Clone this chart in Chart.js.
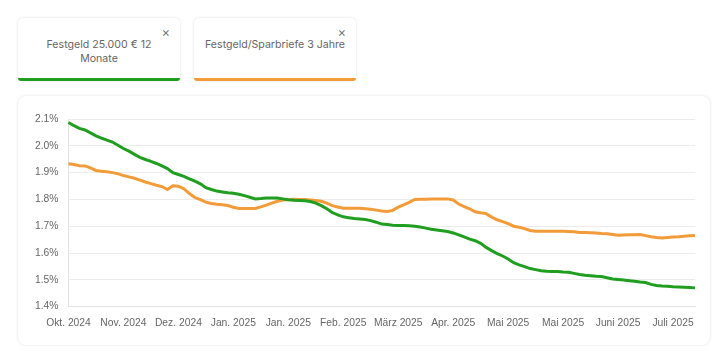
<!DOCTYPE html>
<html>
<head>
<meta charset="utf-8">
<script src="https://cdn.jsdelivr.net/npm/chart.js@4.4.1/dist/chart.umd.min.js"></script>
<style>
  html, body { margin: 0; padding: 0; background: #fff; }
  body { width: 720px; height: 351px; position: relative; overflow: hidden; font-family: Inter, "Noto Sans", sans-serif; }
  .pill {
    position: absolute; top: 18px; width: 162px; height: 63px; box-sizing: border-box;
    background: #fff; border-radius: 5px;
    box-shadow: 0 0 3px rgba(0,0,0,0.12);
    font-size: 10.6px; color: #666; text-align: center; line-height: 14px;
    padding: 20px 8px 0 8px;
  }
  .pill .x { position: absolute; right: 10px; top: 7px; font-size: 13px; color: #777; }
  .pill .bar { position: absolute; left: 0; right: 0; bottom: 0; height: 3px; border-radius: 0 0 5px 5px; }
  #card {
    position: absolute; left: 18px; top: 96px; width: 692px; height: 249px; box-sizing: border-box;
    border-radius: 8px; background: #fff; box-shadow: 0 0 3px rgba(0,0,0,0.13);
  }
  #card canvas { position: absolute; left: 0; top: 0; }
</style>
</head>
<body>
<div class="pill" style="left:18px"><span class="x">×</span>Festgeld 25.000 € 12<br>Monate<div class="bar" style="background:#1f9e1f"></div></div>
<div class="pill" style="left:194px;white-space:nowrap"><span class="x">×</span>Festgeld/Sparbriefe 3 Jahre<div class="bar" style="background:#f29b38"></div></div>
<div id="card"><canvas id="rateChart" width="692" height="249"></canvas></div>
<script>
// tick labels shown every 10 data points
var tickLabels = ["Okt. 2024", "Nov. 2024", "Dez. 2024", "Jan. 2025", "Jan. 2025", "Feb. 2025",
  "März 2025", "Apr. 2025", "Mai 2025", "Mai 2025", "Juni 2025", "Juli 2025"];

var festgeld12 = [
  2.087, 2.075, 2.065, 2.059, 2.048, 2.037, 2.029, 2.021, 2.014, 2.002,
  1.990, 1.980, 1.968, 1.957, 1.949, 1.942, 1.934, 1.925, 1.915, 1.900,
  1.893, 1.886, 1.877, 1.868, 1.858, 1.844, 1.837, 1.831, 1.828, 1.825,
  1.823, 1.819, 1.814, 1.808, 1.802, 1.803, 1.805, 1.805, 1.805, 1.802,
  1.799, 1.797, 1.796, 1.795, 1.792, 1.786, 1.777, 1.765, 1.751, 1.742,
  1.735, 1.732, 1.729, 1.727, 1.725, 1.721, 1.715, 1.708, 1.706, 1.704,
  1.703, 1.703, 1.702, 1.700, 1.697, 1.693, 1.689, 1.686, 1.683, 1.680,
  1.675, 1.668, 1.660, 1.652, 1.646, 1.636, 1.621, 1.609, 1.598, 1.589,
  1.578, 1.564, 1.556, 1.549, 1.542, 1.538, 1.534, 1.532, 1.531, 1.531,
  1.529, 1.528, 1.524, 1.520, 1.517, 1.515, 1.513, 1.512, 1.508, 1.503,
  1.501, 1.499, 1.497, 1.495, 1.492, 1.490, 1.483, 1.479, 1.477, 1.476,
  1.474, 1.473, 1.472, 1.471, 1.470
];

var sparbriefe3 = [
  1.933, 1.930, 1.926, 1.925, 1.918, 1.908, 1.905, 1.903, 1.900, 1.896,
  1.889, 1.884, 1.879, 1.872, 1.865, 1.859, 1.853, 1.848, 1.837, 1.851,
  1.849, 1.840, 1.822, 1.807, 1.799, 1.790, 1.785, 1.782, 1.780, 1.777,
  1.771, 1.766, 1.766, 1.766, 1.766, 1.772, 1.779, 1.786, 1.793, 1.798,
  1.799, 1.801, 1.800, 1.800, 1.798, 1.796, 1.793, 1.786, 1.777, 1.772,
  1.767, 1.767, 1.767, 1.767, 1.765, 1.763, 1.760, 1.757, 1.755, 1.759,
  1.771, 1.780, 1.789, 1.800, 1.801, 1.801, 1.802, 1.802, 1.802, 1.802,
  1.798, 1.783, 1.773, 1.765, 1.754, 1.750, 1.747, 1.734, 1.724, 1.717,
  1.710, 1.700, 1.696, 1.691, 1.684, 1.681, 1.681, 1.681, 1.681, 1.681,
  1.681, 1.680, 1.679, 1.677, 1.677, 1.676, 1.675, 1.673, 1.672, 1.669,
  1.666, 1.667, 1.668, 1.668, 1.669, 1.665, 1.661, 1.658, 1.656, 1.658,
  1.660, 1.661, 1.663, 1.664, 1.665
];

var labels = festgeld12.map(function (v, i) { return i % 10 === 0 ? tickLabels[i / 10] : ""; });

var ctx = document.getElementById("rateChart");
var rateChart = new Chart(ctx, {
  type: 'line',
  data: {
    labels: labels,
    datasets: [{
      label: 'Festgeld 25.000 € 12 Monate',
      data: festgeld12,
      borderColor: '#1f9e1f',
      borderWidth: 3,
      pointRadius: 0,
      tension: 0
    }, {
      label: 'Festgeld/Sparbriefe 3 Jahre',
      data: sparbriefe3,
      borderColor: '#f29b38',
      borderWidth: 3,
      pointRadius: 0,
      tension: 0
    }]
  },
  options: {
    responsive: false,
    animation: false,
    layout: { padding: { left: 7, right: 15, top: 23, bottom: 6 } },
    plugins: { legend: { display: false }, tooltip: { enabled: false } },
    scales: {
      x: {
        grid: { display: false, drawTicks: false },
        border: { display: true, color: '#e3e3e3' },
        ticks: {
          autoSkip: false, maxRotation: 0, padding: 10,
          color: '#666', font: { size: 10.3 },
          callback: function (v, i) { return labels[i] === "" ? null : labels[i]; }
        }
      },
      y: {
        min: 1.4, max: 2.1,
        grid: { color: '#ececec', drawTicks: false },
        border: { display: true, color: '#e3e3e3' },
        ticks: {
          stepSize: 0.1, padding: 10,
          color: '#666', font: { size: 10.3 },
          callback: function (v) { return v.toFixed(1) + '%'; }
        }
      }
    }
  }
});
</script>
</body>
</html>
